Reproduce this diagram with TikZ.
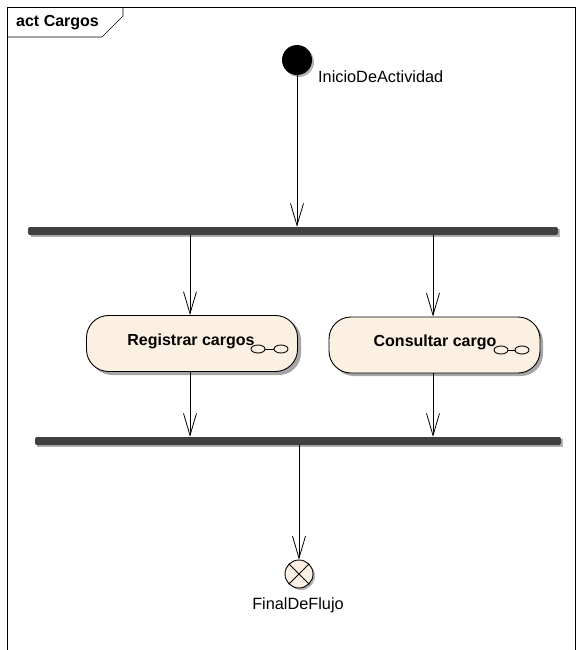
\documentclass[tikz,border=0pt]{standalone}
\usepackage{fontspec}
\setmainfont{Liberation Sans}
\usetikzlibrary{arrows.meta,shapes.misc}
\definecolor{actfill}{HTML}{FBF0E1}
\definecolor{barfill}{HTML}{404040}
\tikzset{
  flow/.style={draw=black, line width=0.8pt, -{Straight Barb[length=22pt,width=13pt,line width=0.8pt]}},
  action/.style={draw=black, line width=0.9pt, fill=actfill, rounded corners=22pt,
    minimum width=211pt, minimum height=56pt, inner sep=0pt},
  shade/.style={fill=black!35, rounded corners=22pt},
  syncbar/.style={fill=barfill, rounded corners=2pt},
  label/.style={font=\fontsize{16.3}{19}\selectfont, inner sep=0pt},
  boldlabel/.style={font=\fontsize{16}{19}\selectfont\bfseries, inner sep=0pt},
  rake/.style={draw=black, line width=0.9pt, fill=actfill}
}
\begin{document}
\begin{tikzpicture}[x=1pt,y=-1pt]
\useasboundingbox (0,0) rectangle (580,650);
% diagram frame and name tab
\draw[line width=0.6pt] (7,655) -- (7,7) -- (575,7) -- (575,655);
\draw[line width=0.6pt] (7,37) -- (102,37) -- (123,16) -- (123,7);
\node[boldlabel, anchor=west] (title) at (16,23) {act Cargos};

% initial node
\fill[black!30] (299,62) circle (15);
\node[circle, fill=black, minimum size=30pt, inner sep=0pt] (start) at (297,60) {};
\node[label, anchor=west] (startlbl) at (318,77) {InicioDeActividad};

% fork bar
\fill[black!30] (31,229) rectangle (560,237);
\node[syncbar, minimum width=530pt, minimum height=8pt, inner sep=0pt] (fork) at (293,231) {};

% actions (shadows first)
\fill[shade] (90,318) rectangle (301,375);
\fill[shade] (332,320) rectangle (543,376);
\node[action] (reg) at (192,343.5) {};
\node[action] (con) at (434.5,345) {};
\node[boldlabel] (regtxt) at (191,341) {Registrar cargos};
\node[boldlabel] (contxt) at (435,342) {Consultar cargo};

% call-behaviour rake markers
\draw[rake] (264.5,349) -- (274.5,349);
\draw[rake] (258,349) ellipse (7pt and 4pt);
\draw[rake] (281,349) ellipse (7pt and 4pt);
\draw[rake] (507.5,350) -- (515.5,350);
\draw[rake] (501,350) ellipse (7pt and 4pt);
\draw[rake] (522,350) ellipse (7pt and 4pt);

% join bar
\fill[black!30] (37,439) rectangle (563,447);
\node[syncbar, minimum width=526pt, minimum height=8pt, inner sep=0pt] (join) at (298,441) {};

% flow final node
\fill[black!30] (301,576) circle (14);
\node[circle, draw=black, line width=0.9pt, fill=actfill, minimum size=28pt, inner sep=0pt] (final) at (299,574) {};
\draw[line width=0.9pt] (final.north west) -- (final.south east)
  (final.north east) -- (final.south west);
\node[label] (finallbl) at (298,605) {FinalDeFlujo};

% control flows
\draw[flow] (start.south) -- (start.south |- fork.north);
\draw[flow] (190,235) -- (reg.north -| 190,0);
\draw[flow] (433,235) -- (con.north -| 433,0);
\draw[flow] (reg.south -| 190,0) -- (join.north -| 190,0);
\draw[flow] (con.south -| 433,0) -- (join.north -| 433,0);
\draw[flow] (join.south -| 299,0) -- (final.north);
\end{tikzpicture}
\end{document}
